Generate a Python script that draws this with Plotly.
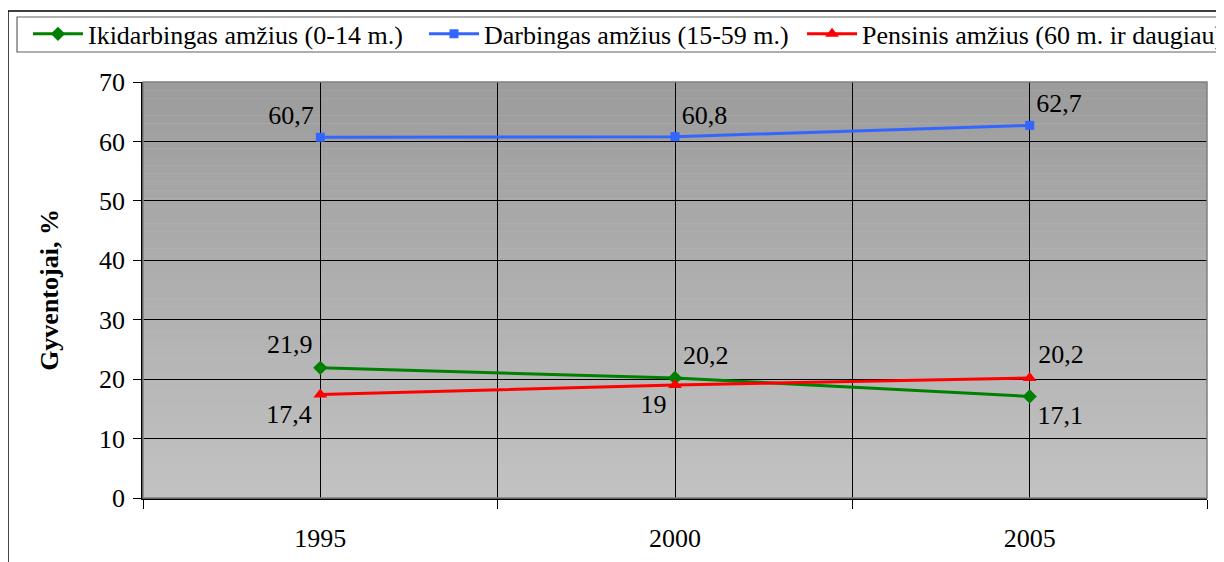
import plotly.graph_objects as go

years = ["1995", "2000", "2005"]
green_vals = [21.9, 20.2, 17.1]
blue_vals = [60.7, 60.8, 62.7]
red_vals = [17.4, 19.0, 20.2]
names = ["Ikidarbingas amžius (0-14 m.)", "Darbingas amžius (15-59 m.)", "Pensinis amžius (60 m. ir daugiau)"]
y_ticks = [0, 10, 20, 30, 40, 50, 60, 70]

FONT = "Liberation Serif"
FS = 26
xs = list(range(len(years)))

def fmt(v):
    return f"{v:g}".replace(".", ",")

fig = go.Figure()
series = [
    (names[0], green_vals, "#008000", "diamond", 11, ["top left", "top right", "bottom right"], "legend"),
    (names[1], blue_vals, "#3366ff", "square", 9, ["top left", "top right", "top right"], "legend2"),
    (names[2], red_vals, "#ff0000", "triangle-up", 12, ["bottom left", "bottom left", "top right"], "legend3"),
]
for name, vals, col, sym, ms, tp, lg in series:
    fig.add_trace(go.Scatter(
        x=xs, y=vals, name=name, mode="lines+markers+text",
        line=dict(color=col, width=3),
        marker=dict(color=col, symbol=sym, size=ms),
        text=[fmt(v) for v in vals], textposition=tp,
        textfont=dict(family=FONT, size=FS, color="black"),
        cliponaxis=False, legend=lg,
    ))

# gradient background bands
shapes = []
n = 50
top = (0x9c, 0x9c, 0x9c)
bot = (0xc2, 0xc2, 0xc2)
for i in range(n):
    t = i / (n - 1)
    c = tuple(int(round(top[k] + (bot[k] - top[k]) * t)) for k in range(3))
    y1 = 1 - i / n
    y0 = 1 - (i + 1) / n
    shapes.append(dict(type="rect", xref="x domain", yref="y domain", x0=0, x1=1, y0=y0, y1=y1,
                       fillcolor="rgb(%d,%d,%d)" % c, line=dict(width=0), layer="below"))
# plot border gray
shapes.append(dict(type="rect", xref="x domain", yref="y domain", x0=0, x1=1, y0=0, y1=1,
                   line=dict(color="#808080", width=1.5), layer="above", fillcolor="rgba(0,0,0,0)"))
# outer chart border (left and top)
shapes.append(dict(type="path", xref="paper", yref="paper",
                   path="M -0.1269,-0.3 L -0.1269,1.1707 L 1.2,1.1707",
                   line=dict(color="black", width=1.5)))
# legend box (extends past the right edge like the reference)
shapes.append(dict(type="rect", xref="paper", yref="paper",
                   x0=-0.1184, x1=1.2, y0=1.0721, y1=1.15625,
                   line=dict(color="#606060", width=1.2), fillcolor="white", layer="above"))

leg_common = dict(orientation="h", y=1.172, xanchor="left", yanchor="top",
                  borderwidth=0, bgcolor="rgba(0,0,0,0)",
                  font=dict(family=FONT, size=FS, color="black"), itemwidth=50)

fig.update_layout(
    width=1224, height=562,
    margin=dict(l=135, r=25, t=74, b=72, autoexpand=False),
    paper_bgcolor="white", plot_bgcolor="#c0c0c0",
    font=dict(family=FONT, size=FS, color="black"),
    showlegend=True,
    legend=dict(x=-0.1081, **leg_common),
    legend2=dict(x=0.2641, **leg_common),
    legend3=dict(x=0.6194, **leg_common),
    shapes=shapes,
    xaxis=dict(range=[-0.5, 2.5], tickmode="array", tickvals=xs, ticktext=years,
               tickfont=dict(family=FONT, size=FS, color="black"),
               showgrid=True, gridcolor="black", gridwidth=1, ticks="",
               showline=True, linecolor="black", linewidth=1.5, zeroline=False,
               ticklabelstandoff=16,
               minor=dict(tickmode="linear", tick0=0.5, dtick=1, showgrid=True,
                          gridcolor="black", gridwidth=1, ticks="outside", ticklen=9,
                          tickcolor="black")),
    yaxis=dict(range=[0, 70], tickmode="array", tickvals=y_ticks,
               tickfont=dict(family=FONT, size=FS, color="black"),
               showgrid=True, gridcolor="black", gridwidth=1,
               ticks="outside", ticklen=8, tickcolor="black",
               showline=True, linecolor="black", linewidth=1.5, zeroline=False,
               ticklabelstandoff=3,
               title=dict(text="<b>Gyventojai, %</b>", font=dict(family=FONT, size=FS, color="black"), standoff=33)),
)

fig.write_html("out.html")
